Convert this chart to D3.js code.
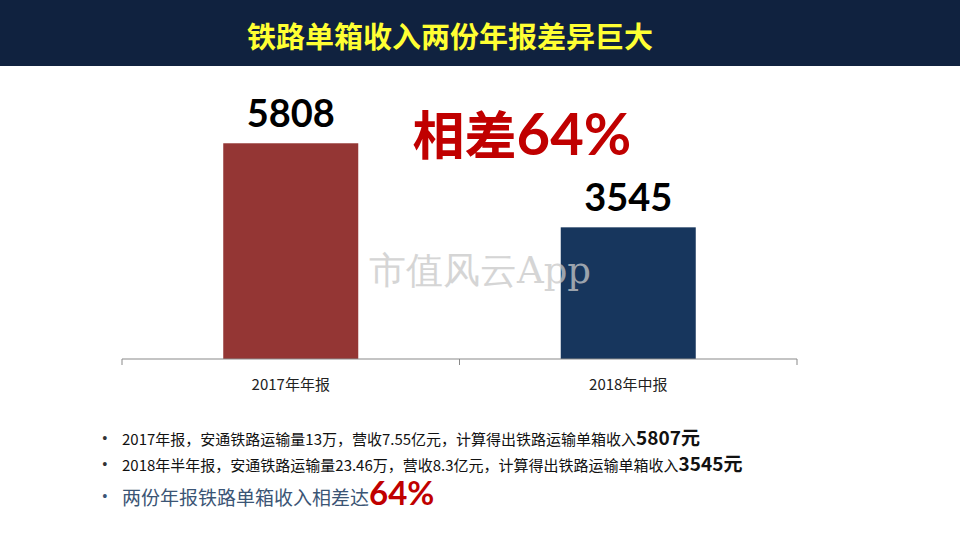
<!DOCTYPE html>
<html>
<head>
<meta charset="utf-8">
<script src="https://cdn.jsdelivr.net/npm/d3@7"></script>
<style>
  body { margin: 0; background: #fff; }
  svg { display: block; }
</style>
</head>
<body>
<svg id="graph"></svg>
<script>
// data
const categories = ['2017年年报', '2018年中报'];
const values = [5808, 3545];
const barColors = ['#943634', '#17365d'];

const bullets = [
  {text: '2017年报，安通铁路运输量13万，营收7.55亿元，计算得出铁路运输单箱收入', big: '5807元'},
  {text: '2018年半年报，安通铁路运输量23.46万，营收8.3亿元，计算得出铁路运输单箱收入', big: '3545元'}
];

const width = 960;
const height = 540;

const graph = d3.select('#graph')
  .attr('width', width)
  .attr('height', height);

const cjk = '"Noto Sans CJK SC", sans-serif';
const num = 'Lato, "Noto Sans", sans-serif';

// header bar
graph.append('rect')
  .attr('x', 0).attr('y', 0)
  .attr('width', width).attr('height', 66)
  .style('fill', '#10223f');

graph.append('text')
  .attr('x', 450).attr('y', 48)
  .attr('text-anchor', 'middle')
  .style('font-family', cjk)
  .style('font-weight', 'bold')
  .style('font-size', '29px')
  .style('fill', '#ffff33')
  .text('铁路单箱收入两份年报差异巨大');

// scales
const x_scale = d3.scaleBand()
  .domain(categories)
  .range([122, 797])
  .paddingInner(0.6)
  .paddingOuter(0.3);

const y_scale = d3.scaleLinear()
  .domain([0, 7000])
  .range([359, 99]);

graph.selectAll('rect.bar')
  .data(values)
  .enter()
  .append('rect')
  .attr('class', 'bar')
  .attr('x', (d, i) => x_scale(categories[i]))
  .attr('y', d => y_scale(d))
  .attr('width', x_scale.bandwidth())
  .attr('height', d => y_scale(0) - y_scale(d))
  .style('fill', (d, i) => barColors[i]);

// watermark on top, semi transparent
graph.append('text')
  .attr('x', 480).attr('y', 283)
  .attr('text-anchor', 'middle')
  .style('font-family', '"DejaVu Serif", serif')
  .style('font-size', '37px')
  .style('fill', '#c8c8c8')
  .style('opacity', 0.75)
  .text('市值风云App');

graph.selectAll('text.val')
  .data(values)
  .enter()
  .append('text')
  .attr('class', 'val')
  .attr('x', (d, i) => x_scale(categories[i]) + x_scale.bandwidth() / 2)
  .attr('y', d => y_scale(d) - 16)
  .attr('text-anchor', 'middle')
  .style('font-family', num)
  .style('font-weight', 'bold')
  .style('font-size', '38px')
  .style('fill', '#000')
  .text(d => d);

// axis with ticks on band edges
const axis = graph.append('g');
axis.append('line')
  .attr('x1', 122).attr('x2', 797)
  .attr('y1', y_scale(0)).attr('y2', y_scale(0))
  .style('stroke', '#898989');
const edges = [x_scale.range()[0], ...categories.slice(1).map(c => x_scale(c) - x_scale.step() * 0.3), x_scale.range()[1]];
axis.selectAll('line.tick')
  .data(edges)
  .enter()
  .append('line')
  .attr('class', 'tick')
  .attr('x1', d => d).attr('x2', d => d)
  .attr('y1', y_scale(0)).attr('y2', y_scale(0) + 6)
  .style('stroke', '#898989');
axis.selectAll('text')
  .data(categories)
  .enter()
  .append('text')
  .attr('x', d => x_scale(d) + x_scale.bandwidth() / 2)
  .attr('y', 390)
  .attr('text-anchor', 'middle')
  .style('font-family', cjk)
  .style('font-size', '15px')
  .style('fill', '#222')
  .text(d => d);

// big red note
const diff = graph.append('text')
  .attr('x', 522).attr('y', 155)
  .attr('text-anchor', 'middle')
  .style('font-weight', 'bold')
  .style('fill', '#c00000');
diff.append('tspan').style('font-family', cjk).style('font-size', '52px').text('相差');
diff.append('tspan').style('font-family', num).style('font-size', '58px').text('64%');

// bullet list
bullets.forEach((b, i) => {
  const y = 445 + i * 26;
  graph.append('text')
    .attr('x', 102).attr('y', y - 1)
    .style('font-size', '16px').style('fill', '#333').text('•');
  const t = graph.append('text')
    .attr('x', 122).attr('y', y)
    .style('fill', '#111');
  t.append('tspan').style('font-family', cjk).style('font-size', '15px').text(b.text);
  t.append('tspan').style('font-family', cjk).style('font-weight', 'bold').style('font-size', '19px').text(b.big);
});

graph.append('text')
  .attr('x', 102).attr('y', 502)
  .style('font-size', '16px').style('fill', '#3b5575').text('•');
const last = graph.append('text')
  .attr('x', 122).attr('y', 505);
last.append('tspan').style('font-family', cjk).style('font-size', '19px').style('fill', '#3b5575').text('两份年报铁路单箱收入相差达');
last.append('tspan').style('font-family', num).style('font-weight', 'bold').style('font-size', '33px').style('fill', '#c00000').text('64%');
</script>
</body>
</html>
